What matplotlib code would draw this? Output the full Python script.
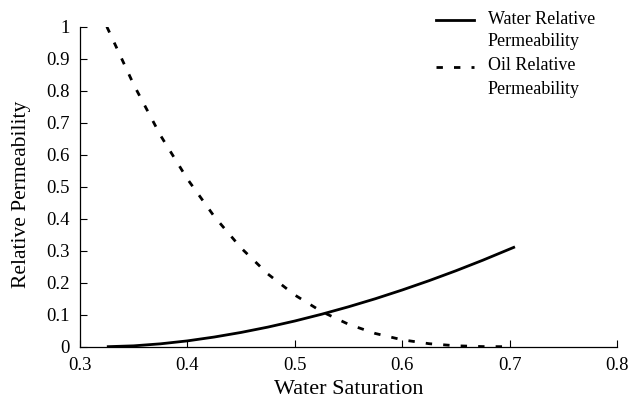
import matplotlib
matplotlib.use("Agg")
import matplotlib.pyplot as plt
from matplotlib.lines import Line2D

plt.rcParams['font.family'] = ['Liberation Serif', 'DejaVu Serif']

sw_water = [0.325, 0.35, 0.375, 0.40, 0.425, 0.45, 0.475, 0.50, 0.525, 0.55,
            0.575, 0.60, 0.625, 0.65, 0.675, 0.705]
krw = [0.0, 0.0027, 0.0090, 0.0182, 0.0302, 0.0446, 0.0613, 0.0803, 0.1015,
       0.1247, 0.1499, 0.1772, 0.2063, 0.2373, 0.2702, 0.312]

sw_oil = [0.325, 0.35, 0.375, 0.40, 0.425, 0.45, 0.475, 0.50, 0.525, 0.55,
          0.575, 0.60, 0.625, 0.65, 0.675, 0.70]
kro = [1.0, 0.819, 0.660, 0.524, 0.407, 0.3085, 0.227, 0.1615, 0.1097, 0.0701,
       0.0413, 0.0216, 0.0094, 0.0029, 0.0004, 0.0]

xticks = [0.3, 0.4, 0.5, 0.6, 0.7, 0.8]
xticklabels = ['0.3', '0.4', '0.5', '0.6', '0.7', '0.8']
yticks = [0, 0.1, 0.2, 0.3, 0.4, 0.5, 0.6, 0.7, 0.8, 0.9, 1.0]
yticklabels = ['0', '0.1', '0.2', '0.3', '0.4', '0.5', '0.6', '0.7', '0.8', '0.9', '1']

DASH = (0, (2.3, 4.0))

fig = plt.figure(figsize=(6.29, 4.0), dpi=100)
ax = fig.add_axes([80/629, 53.3/400, 537/629, 320/400])

ax.plot(sw_water, krw, color='black', lw=2.0, solid_capstyle='butt')
ax.plot(sw_oil, kro, color='black', lw=2.0, linestyle=DASH)

ax.set_xlim(0.3, 0.8)
ax.set_ylim(0, 1)
ax.set_xticks(xticks)
ax.set_xticklabels(xticklabels)
ax.set_yticks(yticks)
ax.set_yticklabels(yticklabels)
ax.tick_params(direction='in', length=5, width=0.8, labelsize=13.5, pad=7.5)
for s in ['top', 'right']:
    ax.spines[s].set_visible(False)
for s in ['left', 'bottom']:
    ax.spines[s].set_linewidth(0.9)

def fx(px):
    return px / 629
def fy(py):
    return 1 - py / 400

fig.text(fx(348.5), fy(394), 'Water Saturation', fontsize=16, ha='center', va='baseline')
fig.text(fx(22), fy(194), 'Relative Permeability', fontsize=15.5, ha='center', va='center',
         rotation=90)

# legend drawn manually
fig.add_artist(Line2D([fx(436), fx(474)], [fy(20), fy(20)], color='black', lw=2.0,
                      transform=fig.transFigure))
fig.add_artist(Line2D([fx(436), fx(474)], [fy(67), fy(67)], color='black', lw=2.0,
                      linestyle=DASH, transform=fig.transFigure))
fig.text(fx(488), fy(19), 'Water Relative', fontsize=13, va='center', ha='left')
fig.text(fx(488), fy(41), 'Permeability', fontsize=13, va='center', ha='left')
fig.text(fx(488), fy(66), 'Oil Relative', fontsize=13, va='center', ha='left')
fig.text(fx(488), fy(89), 'Permeability', fontsize=13, va='center', ha='left')

fig.savefig('out.png', dpi=100)
